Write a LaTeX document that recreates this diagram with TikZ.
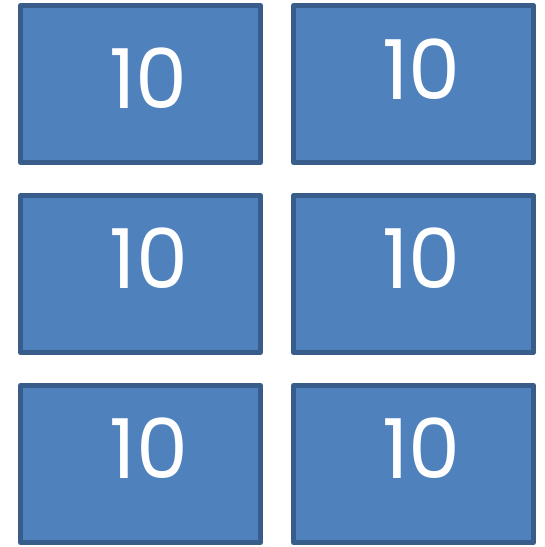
\documentclass[tikz,border=0pt]{standalone}
\usepackage{fontspec}
\setmainfont{Poppins}
\usepackage{xcolor}
\definecolor{tenblue}{HTML}{4F81BD}
\definecolor{tenedge}{HTML}{385D8A}
\begin{document}
\begin{tikzpicture}[
  x=0.75pt, y=-0.75pt,
  tenbox/.style={draw=tenedge, fill=tenblue, line width=3.75pt, line join=round,
    minimum width=180pt, minimum height=117.75pt, inner sep=0pt},
  tenlabel/.style={text=white, anchor=base, inner sep=0pt, font=\fontsize{62}{62}\selectfont}
]
  \useasboundingbox (0,0) rectangle (544,547);

  % --- boxes (two columns, three rows) ---
  \foreach \r/\y in {1/84, 2/274, 3/464} {
    \node[tenbox] (l\r) at (140.5, \y) {};
    \node[tenbox] (r\r) at (413.5, \y) {};
  }

  % --- numbers ---
  \node[tenlabel] (tl1) at (148.5, 108) {10};
  \node[tenlabel] (tr1) at (421.5, 99) {10};
  \foreach \r/\y in {2/288, 3/478} {
    \node[tenlabel] (tl\r) at (149, \y) {10};
    \node[tenlabel] (tr\r) at (421.5, \y) {10};
  }
\end{tikzpicture}
\end{document}
